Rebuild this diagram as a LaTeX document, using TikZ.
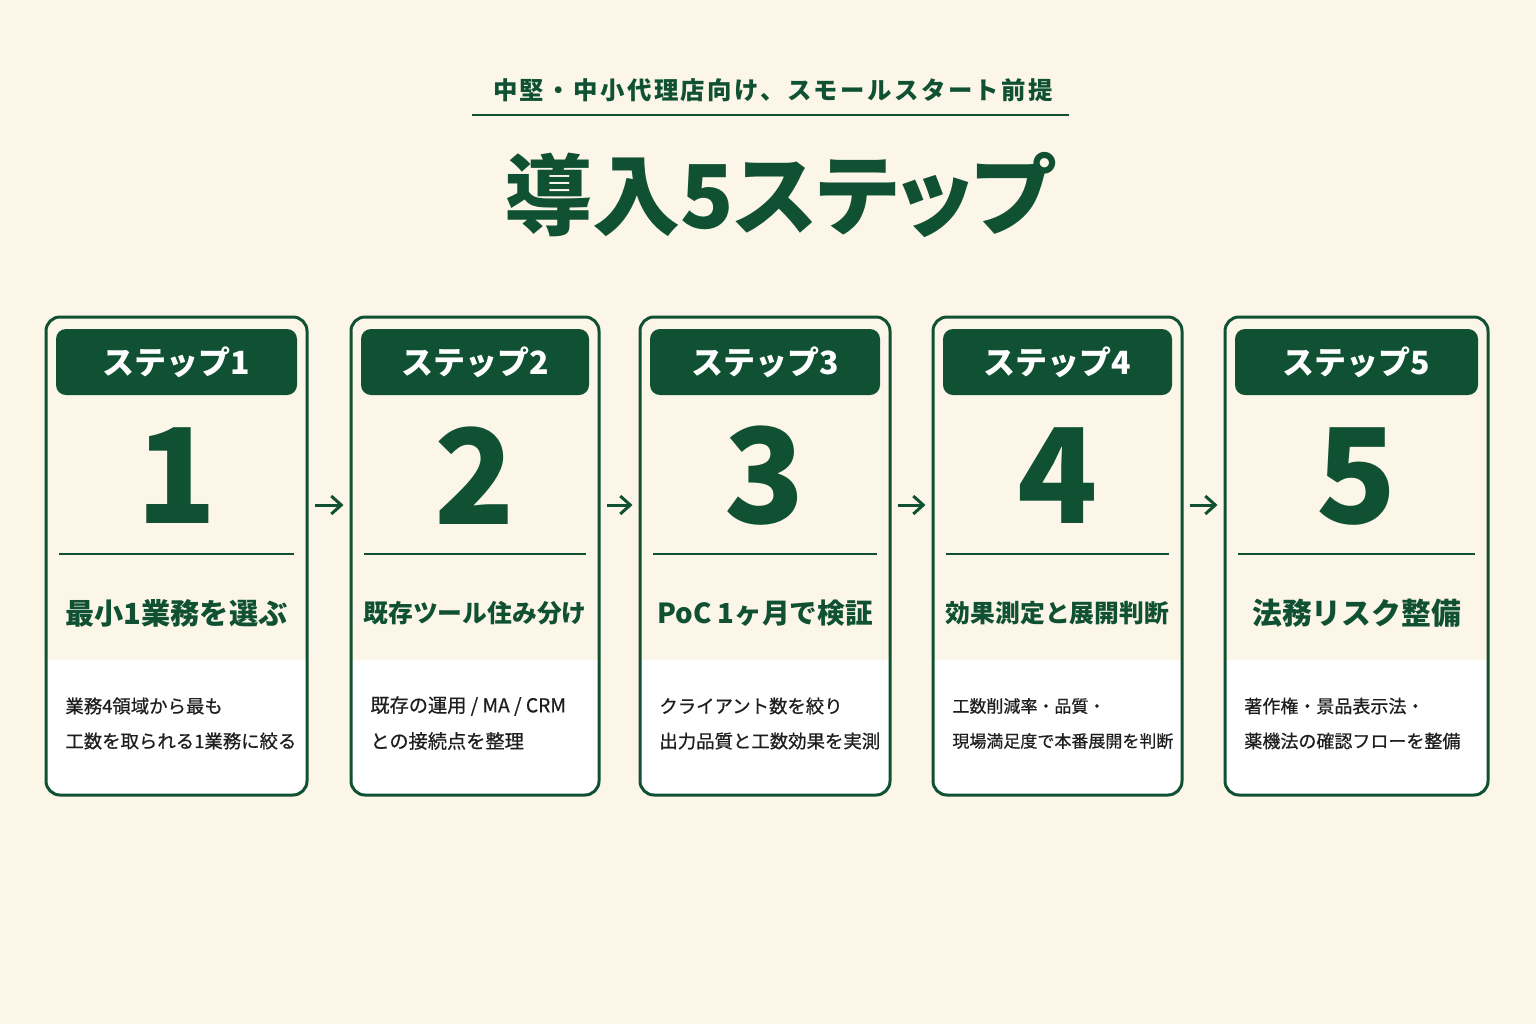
\documentclass[tikz,border=0pt]{standalone}
\usepackage{fontspec}
\setmainfont{Noto Sans CJK JP}
\usetikzlibrary{arrows.meta,calc}
\definecolor{bg}{HTML}{FCF6E8}
\definecolor{dg}{HTML}{0F5132}
\definecolor{txt}{HTML}{1E1E1E}
\tikzset{
  cardbox/.style={draw=dg, line width=1.5pt, rounded corners=7pt, inner sep=0pt},
  tabbox/.style={fill=dg, rounded corners=5pt, inner sep=0pt, text=white,
    font=\bfseries\fontsize{16pt}{18pt}\selectfont},
  bignum/.style={text=dg, inner sep=0pt, font=\bfseries\fontsize{66pt}{70pt}\selectfont},
  divider/.style={draw=dg, line width=0.9pt},
  ctitle/.style={text=dg, inner sep=0pt},
  desc/.style={text=txt, inner sep=0pt, anchor=west},
  flow/.style={draw=dg, line width=1.5pt, -{Straight Barb[length=5pt,width=9pt,line width=1.5pt]}},
}
\newcommand\stepcard[9]{%
  \begin{scope}
    \clip[rounded corners=7pt] (#2,317) rectangle (#3,795);
    \fill[white] (#2,660) rectangle (#3,795);
  \end{scope}
  \node[cardbox, minimum width={(#3-#2)*0.5pt}, minimum height=239pt] (#1) at ({(#2+#3)/2},556) {};
  \node[tabbox, minimum width={(#3-#2-20)*0.5pt}, minimum height=33pt] (#1t) at ({(#2+#3)/2},362) {ステップ#4};
  \node[bignum] (#1n) at ({(#2+#3)/2},476) {#4};
  \draw[divider] (#2+13,554) -- (#3-13,554);
  \node[ctitle, font=\bfseries\fontsize{#6}{#6}\selectfont] (#1h) at ({(#2+#3)/2},613) {#5};
  \node[desc, font=\fontsize{#9}{#9}\selectfont\addfontfeature{FakeBold=0.6}] (#1a) at (#2+19,706) {#7};
  \node[desc, font=\fontsize{#9}{#9}\selectfont\addfontfeature{FakeBold=0.6}] (#1b) at (#2+19,741) {#8};
}
\begin{document}
\begin{tikzpicture}[x=0.5pt,y=-0.5pt]
\fill[bg] (0,0) rectangle (1536,1024);
\useasboundingbox (0,0) rectangle (1536,1024);
\node[text=dg, inner sep=0pt, font=\bfseries\fontsize{12.2pt}{14pt}\selectfont\addfontfeature{LetterSpace=10}] (sub) at (773,90) {中堅・中小代理店向け、スモールスタート前提};
\draw[dg, line width=0.8pt] (472,115) -- (1069,115);
\node[text=dg, inner sep=0pt, font=\bfseries\fontsize{44pt}{48pt}\selectfont\addfontfeature{RawFeature=+palt}] (title) at (779,195) {導入5ステップ};
\stepcard{c1}{46}{307}{1}{最小1業務を選ぶ}{14.6pt}{業務4領域から最も}{工数を取られる1業務に絞る}{9.2pt}
\stepcard{c2}{351}{599}{2}{既存ツール住み分け}{12.4pt}{既存の運用 / MA / CRM}{との接続点を整理}{9.6pt}
\stepcard{c3}{640}{890}{3}{PoC 1ヶ月で検証}{13.8pt}{クライアント数を絞り}{出力品質と工数効果を実測}{9.2pt}
\stepcard{c4}{933}{1182}{4}{効果測定と展開判断}{12.4pt}{工数削減率・品質・}{現場満足度で本番展開を判断}{8.5pt}
\stepcard{c5}{1225}{1488}{5}{法務リスク整備}{14.9pt}{著作権・景品表示法・}{薬機法の確認フローを整備}{9pt}
\foreach \a/\b in {c1/c2,c2/c3,c3/c4,c4/c5}
  \draw[flow] ($(\a.east)+(6,-51)$) -- ($(\b.west)+(-6,-51)$);
\end{tikzpicture}
\end{document}
